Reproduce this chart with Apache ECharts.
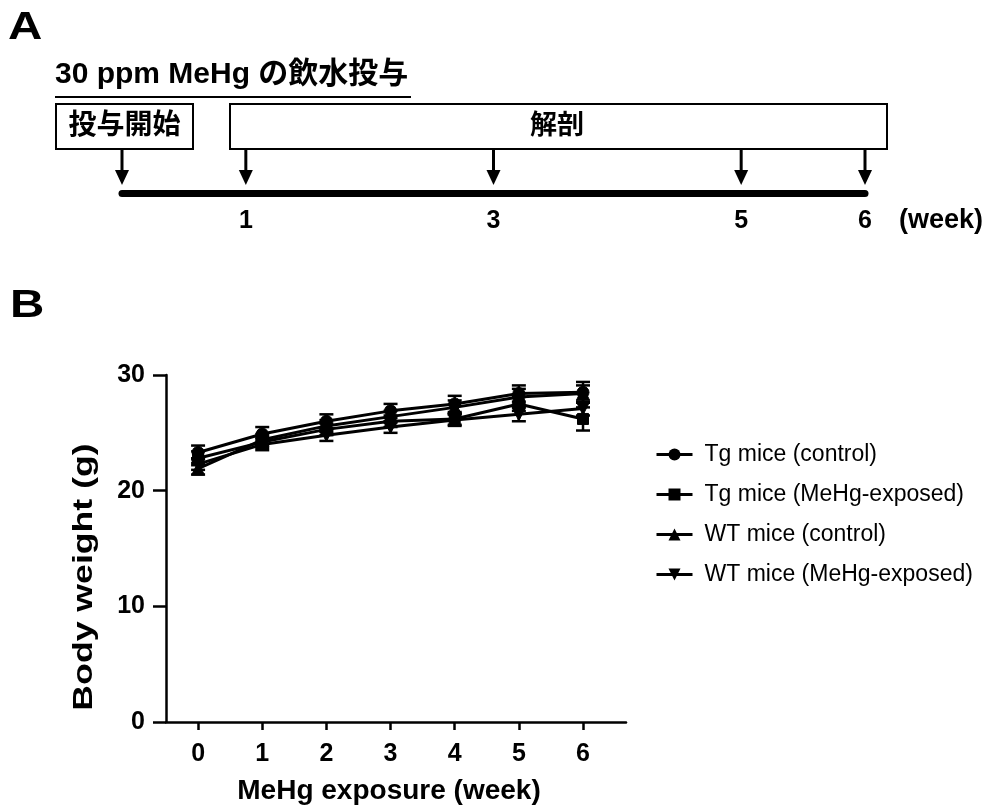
<!DOCTYPE html>
<html>
<head>
<meta charset="utf-8">
<script src="https://cdn.jsdelivr.net/npm/echarts@6.0.0/dist/echarts.min.js"></script>
<style>
  html, body { margin: 0; padding: 0; background: #fff; }
  #chart { width: 992px; height: 811px; }
</style>
</head>
<body>
<div id="chart"></div>
<script>
// Panel A: timeline
const timelineWeeks = [0, 1, 3, 5, 6];
const timelineLabels = [1, 3, 5, 6];

// Panel B: body weight (mean, SD)
const weeks = [0, 1, 2, 3, 4, 5, 6];
const tgControl = [23.3, 24.9, 26.0, 26.9, 27.5, 28.4, 28.5];
const tgControlSd = [0.6, 0.6, 0.6, 0.6, 0.7, 0.7, 0.9];
const tgMeHg = [22.8, 24.2, 25.3, 26.0, 26.2, 27.5, 26.2];
const tgMeHgSd = [0.6, 0.5, 0.5, 0.5, 0.5, 0.6, 1.0];
const wtControl = [21.9, 24.4, 25.6, 26.4, 27.2, 28.1, 28.4];
const wtControlSd = [0.5, 0.5, 0.5, 0.5, 0.6, 0.7, 0.7];
const wtMeHg = [22.3, 24.0, 24.8, 25.5, 26.1, 26.6, 27.1];
const wtMeHgSd = [0.5, 0.5, 0.5, 0.5, 0.5, 0.6, 0.6];
const yTicks = [0, 10, 20, 30];

const FONT = '"Liberation Sans", Arial, sans-serif';
const JP = '"Liberation Sans", "Noto Sans CJK JP", sans-serif';

const groups = [
    { name: "Tg mice (control)", mean: tgControl, sd: tgControlSd, symbol: "circle", size: 12 },
    { name: "Tg mice (MeHg-exposed)", mean: tgMeHg, sd: tgMeHgSd, symbol: "rect", size: 11 },
    { name: "WT mice (control)", mean: wtControl, sd: wtControlSd, symbol: "triangle", size: 13 },
    { name: "WT mice (MeHg-exposed)", mean: wtMeHg, sd: wtMeHgSd, symbol: "path://M0,0 L10,0 L5,9 Z", size: 13 },
];

const chart = echarts.init(document.getElementById("chart"));

function errorBarItem(params, api) {
    const x = api.value(0);
    const lo = api.coord([x, api.value(1) - api.value(2)]);
    const hi = api.coord([x, api.value(1) + api.value(2)]);
    const w = 7;
    const style = { stroke: "#000", lineWidth: 2.5 };
    return {
        type: "group",
        children: [
            { type: "line", shape: { x1: lo[0], y1: lo[1], x2: hi[0], y2: hi[1] }, style },
            { type: "line", shape: { x1: lo[0] - w, y1: lo[1], x2: lo[0] + w, y2: lo[1] }, style },
            { type: "line", shape: { x1: hi[0] - w, y1: hi[1], x2: hi[0] + w, y2: hi[1] }, style },
        ],
    };
}

function arrowItem(params, api) {
    const base = api.coord([api.value(0), 0]);
    const top = api.coord([api.value(0), 1]);
    const x = base[0];
    const tip = base[1] - 8;
    return {
        type: "group",
        children: [
            { type: "line", shape: { x1: x, y1: top[1], x2: x, y2: tip - 12 }, style: { stroke: "#000", lineWidth: 3 } },
            { type: "polygon", shape: { points: [[x - 7, tip - 15], [x + 7, tip - 15], [x, tip]] }, style: { fill: "#000" } },
        ],
    };
}

const series = [];
groups.forEach((g) => {
    series.push({
        type: "custom",
        xAxisIndex: 1,
        yAxisIndex: 1,
        renderItem: errorBarItem,
        data: weeks.map((w, i) => [w, g.mean[i], g.sd[i]]),
        encode: { x: 0, y: 1 },
        silent: true,
        z: 2,
    });
});
groups.forEach((g) => {
    series.push({
        name: g.name,
        type: "line",
        xAxisIndex: 1,
        yAxisIndex: 1,
        data: weeks.map((w, i) => [w, g.mean[i]]),
        symbol: g.symbol,
        symbolSize: g.size,
        showAllSymbol: true,
        lineStyle: { color: "#000", width: 3 },
        itemStyle: { color: "#000", borderColor: "#000" },
        z: 3,
    });
});
series.push({
    type: "custom",
    xAxisIndex: 0,
    yAxisIndex: 0,
    renderItem: arrowItem,
    data: timelineWeeks.map((w) => [w]),
    encode: { x: 0 },
    silent: true,
});

const tickFont = { color: "#000", fontSize: 25, fontWeight: "bold", fontFamily: FONT };

chart.setOption({
    animation: false,
    backgroundColor: "#fff",
    textStyle: { fontFamily: FONT },
    grid: [
        { left: 122, right: 127, top: 150, bottom: 618 },
        { left: 166, right: 366, top: 375, bottom: 89 },
    ],
    xAxis: [
        {
            gridIndex: 0,
            type: "value",
            min: 0,
            max: 6,
            splitLine: { show: false },
            axisLine: { lineStyle: { color: "#000", width: 7 } },
            axisTick: { show: false },
            axisLabel: Object.assign({ customValues: timelineLabels, margin: 16 }, tickFont),
        },
        {
            gridIndex: 1,
            type: "value",
            min: -0.5,
            max: 6.67,
            splitLine: { show: false },
            axisLine: { onZero: false, lineStyle: { color: "#000", width: 2.5 } },
            axisTick: { customValues: weeks, length: 8, lineStyle: { color: "#000", width: 2.5 } },
            axisLabel: Object.assign({ customValues: weeks, margin: 20 }, tickFont),
            name: "MeHg exposure (week)",
            nameLocation: "middle",
            nameGap: 55,
            nameTextStyle: { color: "#000", fontSize: 28, fontWeight: "bold", fontFamily: FONT, padding: [0, 14, 0, 0] },
        },
    ],
    yAxis: [
        { gridIndex: 0, type: "value", min: 0, max: 1, show: false },
        {
            gridIndex: 1,
            type: "value",
            min: 0,
            max: 30,
            interval: 10,
            splitLine: { show: false },
            axisLine: { show: true, onZero: false, lineStyle: { color: "#000", width: 2.5 } },
            axisTick: { show: true, length: 13, lineStyle: { color: "#000", width: 2.5 } },
            axisLabel: Object.assign({ customValues: yTicks, margin: 21 }, tickFont),
        },
    ],
    legend: {
        orient: "vertical",
        left: 650,
        top: 438,
        itemWidth: 36,
        itemHeight: 15,
        itemGap: 17,
        data: groups.map((g) => g.name),
        lineStyle: { width: 3, color: "#000" },
        textStyle: { color: "#000", fontSize: 23, fontFamily: FONT, padding: [0, 0, 0, 7] },
    },
    graphic: [
        { type: "text", x: 8, y: 10, scaleX: 1.25, style: { text: "A", font: "bold 38px " + FONT, fill: "#000" } },
        { type: "text", x: 10, y: 288, scaleX: 1.25, style: { text: "B", font: "bold 38px " + FONT, fill: "#000" } },
        { type: "text", left: 55, top: 60, style: { text: "30 ppm MeHg の飲水投与", font: "bold 30px " + JP, fill: "#000" } },
        { type: "rect", shape: { x: 55, y: 96, width: 356, height: 2 }, style: { fill: "#000" } },
        { type: "rect", shape: { x: 56, y: 104, width: 137, height: 45 }, style: { fill: "#fff", stroke: "#000", lineWidth: 2 } },
        { type: "text", x: 124.5, y: 126.5, style: { text: "投与開始", font: "bold 28px " + JP, fill: "#000", align: "center", verticalAlign: "middle" } },
        { type: "rect", shape: { x: 230, y: 104, width: 657, height: 45 }, style: { fill: "#fff", stroke: "#000", lineWidth: 2 } },
        { type: "text", x: 557, y: 126.5, style: { text: "解剖", font: "bold 27px " + JP, fill: "#000", align: "center", verticalAlign: "middle" } },
        { type: "text", x: 899, y: 221, style: { text: "(week)", font: "bold 27px " + FONT, fill: "#000", verticalAlign: "middle" } },
        { type: "text", x: 85, y: 577, rotation: Math.PI / 2, scaleX: 1.32, style: { text: "Body weight (g)", font: "bold 27px " + FONT, fill: "#000", align: "center", verticalAlign: "middle" } },
    ],
    series,
});
</script>
</body>
</html>
